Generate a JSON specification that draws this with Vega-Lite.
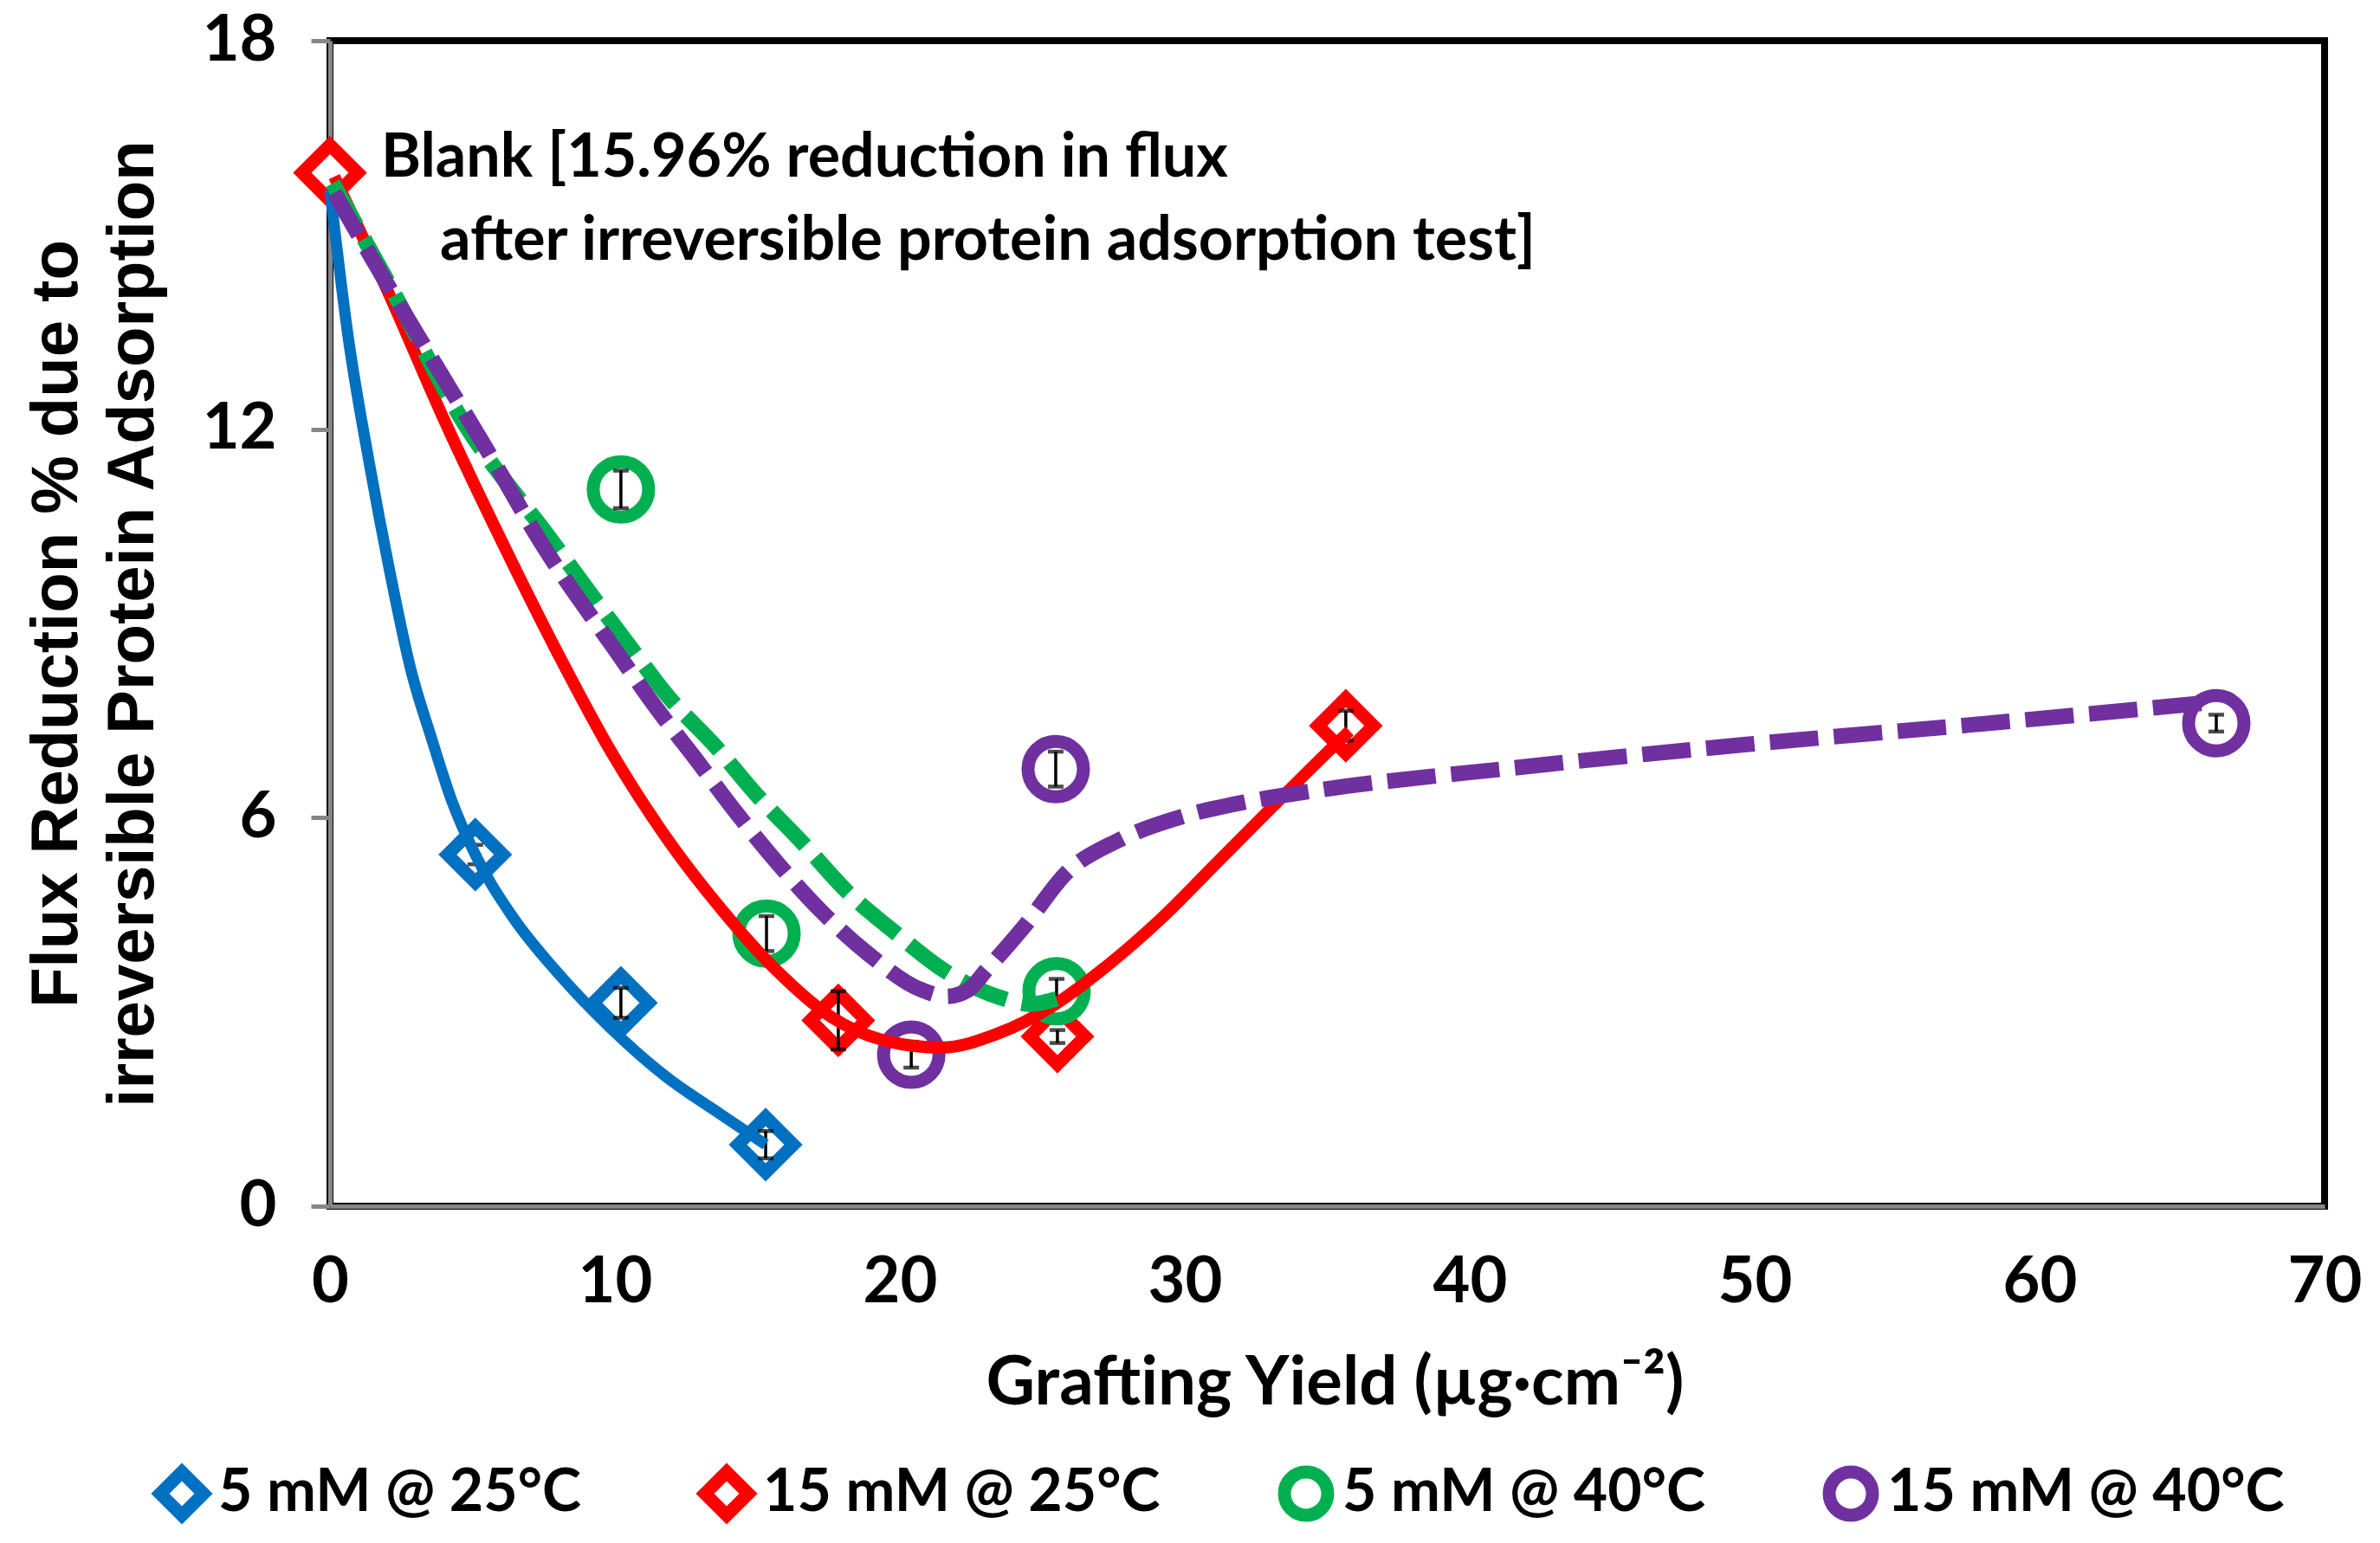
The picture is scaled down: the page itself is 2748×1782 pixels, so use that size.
{
  "$schema": "https://vega.github.io/schema/vega-lite/v6.json",
  "autosize": "none",
  "width": 2303,
  "height": 1346,
  "padding": {"left": 381, "top": 47, "right": 64, "bottom": 389},
  "background": "white",
  "datasets": {
    "points": [
      {"series": "15 mM @ 25°C", "x": 0, "y": 15.96, "e": 0},
      {"series": "5 mM @ 25°C", "x": 5.1, "y": 5.43, "e": 0.15},
      {"series": "5 mM @ 25°C", "x": 10.21, "y": 3.14, "e": 0.23},
      {"series": "5 mM @ 25°C", "x": 15.29, "y": 0.95, "e": 0.21},
      {"series": "15 mM @ 25°C", "x": 17.84, "y": 2.87, "e": 0.45},
      {"series": "15 mM @ 25°C", "x": 25.53, "y": 2.62, "e": 0.1},
      {"series": "15 mM @ 25°C", "x": 35.65, "y": 7.42, "e": 0.23},
      {"series": "5 mM @ 40°C", "x": 10.21, "y": 11.07, "e": 0.29},
      {"series": "5 mM @ 40°C", "x": 15.32, "y": 4.21, "e": 0.27},
      {"series": "5 mM @ 40°C", "x": 25.5, "y": 3.32, "e": 0.19},
      {"series": "15 mM @ 40°C", "x": 20.4, "y": 2.34, "e": 0.2},
      {"series": "15 mM @ 40°C", "x": 25.47, "y": 6.75, "e": 0.27},
      {"series": "15 mM @ 40°C", "x": 66.2, "y": 7.46, "e": 0.13}
    ],
    "curves": [
      {"series": "5 mM @ 25°C", "x": 0, "y": 15.7},
      {"series": "5 mM @ 25°C", "x": 0.64, "y": 13.42},
      {"series": "5 mM @ 25°C", "x": 1.37, "y": 11.5},
      {"series": "5 mM @ 25°C", "x": 2.1, "y": 9.8},
      {"series": "5 mM @ 25°C", "x": 2.83, "y": 8.3},
      {"series": "5 mM @ 25°C", "x": 3.56, "y": 7.23},
      {"series": "5 mM @ 25°C", "x": 4.26, "y": 6.28},
      {"series": "5 mM @ 25°C", "x": 5.1, "y": 5.43},
      {"series": "5 mM @ 25°C", "x": 6.44, "y": 4.45},
      {"series": "5 mM @ 25°C", "x": 7.9, "y": 3.65},
      {"series": "5 mM @ 25°C", "x": 9.85, "y": 2.75},
      {"series": "5 mM @ 25°C", "x": 11.79, "y": 2.0},
      {"series": "5 mM @ 25°C", "x": 13.71, "y": 1.42},
      {"series": "5 mM @ 25°C", "x": 15.29, "y": 0.95},
      {"series": "15 mM @ 25°C", "x": 0.15, "y": 15.9},
      {"series": "15 mM @ 25°C", "x": 2.1, "y": 14.06},
      {"series": "15 mM @ 25°C", "x": 4.01, "y": 12.14},
      {"series": "15 mM @ 25°C", "x": 5.96, "y": 10.33},
      {"series": "15 mM @ 25°C", "x": 7.9, "y": 8.62},
      {"series": "15 mM @ 25°C", "x": 9.85, "y": 7.03},
      {"series": "15 mM @ 25°C", "x": 11.79, "y": 5.7},
      {"series": "15 mM @ 25°C", "x": 13.71, "y": 4.6},
      {"series": "15 mM @ 25°C", "x": 15.65, "y": 3.65},
      {"series": "15 mM @ 25°C", "x": 17.6, "y": 2.92},
      {"series": "15 mM @ 25°C", "x": 19.54, "y": 2.55},
      {"series": "15 mM @ 25°C", "x": 21.46, "y": 2.45},
      {"series": "15 mM @ 25°C", "x": 23.4, "y": 2.66},
      {"series": "15 mM @ 25°C", "x": 25.35, "y": 3.09},
      {"series": "15 mM @ 25°C", "x": 27.29, "y": 3.72},
      {"series": "15 mM @ 25°C", "x": 29.24, "y": 4.47},
      {"series": "15 mM @ 25°C", "x": 31.16, "y": 5.32},
      {"series": "15 mM @ 25°C", "x": 33.1, "y": 6.18},
      {"series": "15 mM @ 25°C", "x": 35.05, "y": 7.03},
      {"series": "15 mM @ 25°C", "x": 35.78, "y": 7.34},
      {"series": "5 mM @ 40°C", "x": 0.1, "y": 15.8},
      {"series": "5 mM @ 40°C", "x": 2.0, "y": 14.3},
      {"series": "5 mM @ 40°C", "x": 4.7, "y": 12.1},
      {"series": "5 mM @ 40°C", "x": 7.66, "y": 10.35},
      {"series": "5 mM @ 40°C", "x": 10.43, "y": 8.7},
      {"series": "5 mM @ 40°C", "x": 11.95, "y": 7.83},
      {"series": "5 mM @ 40°C", "x": 13.47, "y": 7.13},
      {"series": "5 mM @ 40°C", "x": 14.98, "y": 6.35},
      {"series": "5 mM @ 40°C", "x": 16.63, "y": 5.59},
      {"series": "5 mM @ 40°C", "x": 18.12, "y": 4.87},
      {"series": "5 mM @ 40°C", "x": 19.88, "y": 4.21},
      {"series": "5 mM @ 40°C", "x": 21.52, "y": 3.65},
      {"series": "5 mM @ 40°C", "x": 23.4, "y": 3.24},
      {"series": "5 mM @ 40°C", "x": 24.6, "y": 3.12},
      {"series": "5 mM @ 40°C", "x": 25.5, "y": 3.2},
      {"series": "15 mM @ 40°C", "x": 0.15, "y": 15.65},
      {"series": "15 mM @ 40°C", "x": 2.1, "y": 14.17},
      {"series": "15 mM @ 40°C", "x": 3.56, "y": 13.1},
      {"series": "15 mM @ 40°C", "x": 5.47, "y": 11.71},
      {"series": "15 mM @ 40°C", "x": 7.42, "y": 10.24},
      {"series": "15 mM @ 40°C", "x": 10.06, "y": 8.56},
      {"series": "15 mM @ 40°C", "x": 11.46, "y": 7.69},
      {"series": "15 mM @ 40°C", "x": 12.83, "y": 6.91},
      {"series": "15 mM @ 40°C", "x": 14.22, "y": 6.1},
      {"series": "15 mM @ 40°C", "x": 15.74, "y": 5.28},
      {"series": "15 mM @ 40°C", "x": 17.23, "y": 4.56},
      {"series": "15 mM @ 40°C", "x": 18.88, "y": 3.9},
      {"series": "15 mM @ 40°C", "x": 20.76, "y": 3.34},
      {"series": "15 mM @ 40°C", "x": 21.64, "y": 3.24},
      {"series": "15 mM @ 40°C", "x": 22.4, "y": 3.34},
      {"series": "15 mM @ 40°C", "x": 23.04, "y": 3.65},
      {"series": "15 mM @ 40°C", "x": 24.4, "y": 4.34},
      {"series": "15 mM @ 40°C", "x": 25.85, "y": 5.15},
      {"series": "15 mM @ 40°C", "x": 27.72, "y": 5.66},
      {"series": "15 mM @ 40°C", "x": 29.85, "y": 6.01},
      {"series": "15 mM @ 40°C", "x": 31.98, "y": 6.23},
      {"series": "15 mM @ 40°C", "x": 34.0, "y": 6.38},
      {"series": "15 mM @ 40°C", "x": 42.0, "y": 6.79},
      {"series": "15 mM @ 40°C", "x": 49.7, "y": 7.13},
      {"series": "15 mM @ 40°C", "x": 57.5, "y": 7.43},
      {"series": "15 mM @ 40°C", "x": 66.0, "y": 7.78}
    ],
    "notes": [
      {"x": 1.79, "y": 16.18, "t": "Blank [15.96% reduction in flux"},
      {"x": 3.86, "y": 14.9, "t": "after irreversible protein adsorption test]"}
    ]
  },
  "encoding": {
    "x": {
      "field": "x",
      "type": "quantitative",
      "scale": {"domain": [0, 70], "nice": false},
      "axis": {
        "values": [0, 10, 20, 30, 40, 50, 60, 70],
        "title": "Grafting Yield (µg·cm⁻²)",
        "tickSize": 0,
        "labelPadding": 52,
        "labelFlush": false,
        "titleX": 1160,
        "titleY": 228,
        "titleAlign": "center",
        "titleBaseline": "alphabetic",
        "titleFont": "Lato",
        "titleFontSize": 78
      }
    },
    "y": {
      "field": "y",
      "type": "quantitative",
      "scale": {"domain": [0, 18], "nice": false},
      "axis": {
        "values": [0, 6, 12, 18],
        "title": ["Flux Reduction % due to", "irreversible Protein Adsorption"],
        "tickSize": 22,
        "labelPadding": 40,
        "titleX": -293,
        "titleY": 673,
        "titleAngle": -90,
        "titleAlign": "center",
        "titleBaseline": "alphabetic",
        "titleFont": "Liberation Sans",
        "titleFontSize": 76,
        "titleLineHeight": 88
      }
    }
  },
  "layer": [
    {
      "data": {"name": "points"},
      "mark": {"type": "point", "filled": false, "fill": "white", "size": 4100, "opacity": 1},
      "encoding": {
        "color": {
          "field": "series",
          "type": "nominal",
          "scale": {
            "domain": ["5 mM @ 25°C", "15 mM @ 25°C", "5 mM @ 40°C", "15 mM @ 40°C"],
            "range": ["#0070C0", "#FF0000", "#00B050", "#7030A0"]
          },
          "legend": {
            "title": null,
            "orient": "none",
            "legendX": -205,
            "legendY": 1644,
            "direction": "horizontal",
            "columns": 4,
            "padding": 0,
            "columnPadding": 113,
            "labelOffset": 8,
            "labelLimit": 1000,
            "labelFont": "Lato",
            "labelFontSize": 68,
            "labelFontWeight": "bold",
            "labelColor": "black",
            "symbolSize": 2500,
            "symbolStrokeWidth": 16
          }
        },
        "shape": {
          "field": "series",
          "type": "nominal",
          "scale": {
            "domain": ["5 mM @ 25°C", "15 mM @ 25°C", "5 mM @ 40°C", "15 mM @ 40°C"],
            "range": ["diamond", "diamond", "circle", "circle"]
          },
          "legend": {
            "title": null,
            "orient": "none",
            "legendX": -205,
            "legendY": 1644,
            "direction": "horizontal",
            "columns": 4,
            "padding": 0,
            "columnPadding": 113,
            "labelOffset": 8,
            "labelLimit": 1000,
            "labelFont": "Lato",
            "labelFontSize": 68,
            "labelFontWeight": "bold",
            "labelColor": "black",
            "symbolSize": 2500,
            "symbolStrokeWidth": 16
          }
        },
        "strokeWidth": {
          "field": "series",
          "type": "nominal",
          "scale": {
            "domain": ["5 mM @ 25°C", "15 mM @ 25°C", "5 mM @ 40°C", "15 mM @ 40°C"],
            "range": [15, 15, 20, 20]
          },
          "legend": null
        }
      }
    },
    {
      "data": {"name": "points"},
      "transform": [{"filter": "datum.e > 0"}],
      "mark": {
        "type": "errorbar",
        "color": "black",
        "rule": {"strokeWidth": 3.5},
        "ticks": {"size": 18, "thickness": 4.5}
      },
      "encoding": {
        "yError": {"field": "e"}
      }
    },
    {
      "data": {"name": "curves"},
      "transform": [{"filter": "datum.series === '5 mM @ 25°C'"}],
      "mark": {"type": "line", "interpolate": "monotone", "color": "#0070C0", "strokeWidth": 13},
      "encoding": {}
    },
    {
      "data": {"name": "curves"},
      "transform": [{"filter": "datum.series === '15 mM @ 25°C'"}],
      "mark": {"type": "line", "interpolate": "monotone", "color": "#FF0000", "strokeWidth": 14},
      "encoding": {}
    },
    {
      "data": {"name": "curves"},
      "transform": [{"filter": "datum.series === '5 mM @ 40°C'"}],
      "mark": {"type": "line", "interpolate": "monotone", "color": "#00B050", "strokeWidth": 18, "strokeDash": [56, 18], "strokeCap": "butt"},
      "encoding": {}
    },
    {
      "data": {"name": "curves"},
      "transform": [{"filter": "datum.series === '15 mM @ 40°C'"}],
      "mark": {"type": "line", "interpolate": "monotone", "color": "#7030A0", "strokeWidth": 18, "strokeDash": [56, 18], "strokeCap": "butt"},
      "encoding": {}
    },
    {
      "data": {"name": "notes"},
      "mark": {"type": "text", "align": "left", "baseline": "middle", "font": "Lato", "fontWeight": "bold", "fontSize": 70, "color": "black"},
      "encoding": {"text": {"field": "t"}}
    }
  ],
  "config": {
    "view": {"stroke": "black", "strokeWidth": 8},
    "axis": {
      "grid": false,
      "domainColor": "#868686",
      "domainWidth": 5,
      "tickColor": "#868686",
      "tickWidth": 5,
      "labelFont": "Lato",
      "labelFontSize": 74,
      "labelFontWeight": "bold",
      "labelColor": "black",
      "titleFontWeight": "bold",
      "titleColor": "black"
    }
  }
}
